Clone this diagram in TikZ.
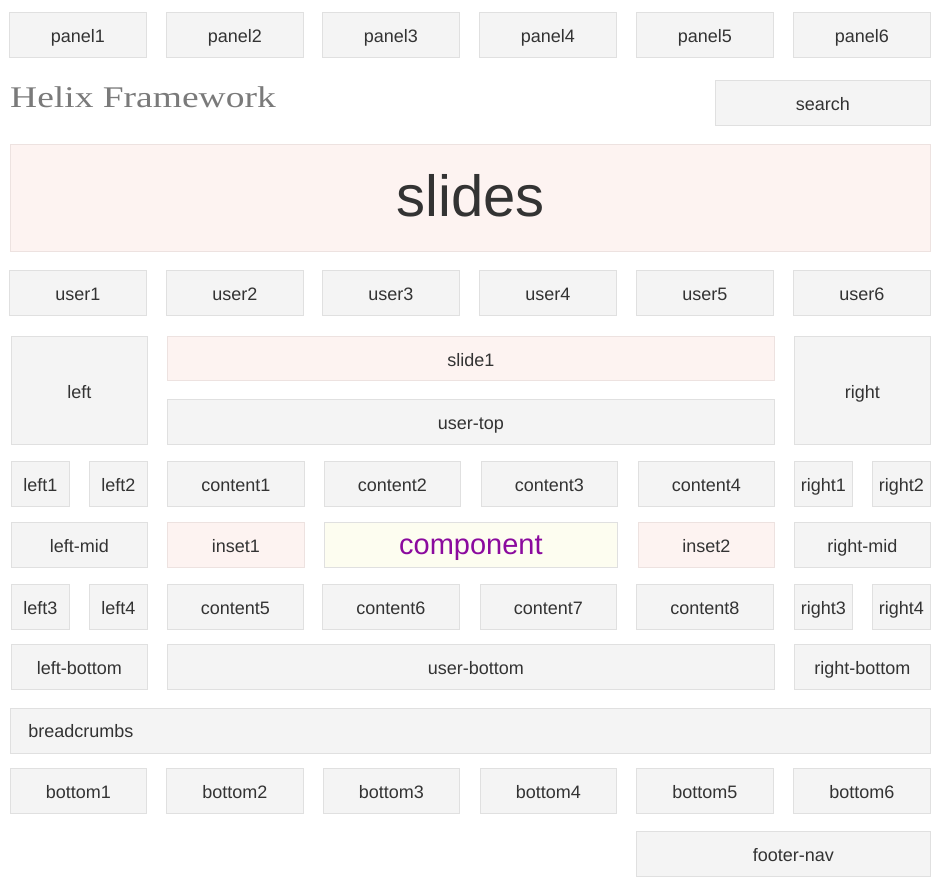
\documentclass[tikz,border=0pt]{standalone}
\usepackage{fontspec}
\setmainfont{Liberation Sans}
\newfontfamily\titlefont{Liberation Serif}
\definecolor{boxfill}{HTML}{F4F4F4}
\definecolor{boxline}{HTML}{E0E0E0}
\definecolor{pinkfill}{HTML}{FDF3F1}
\definecolor{pinkline}{HTML}{EDE2E0}
\definecolor{yelfill}{HTML}{FDFDF0}
\definecolor{txt}{HTML}{333333}
\definecolor{purp}{HTML}{8B0A9E}
\definecolor{titlegray}{HTML}{7A7A7A}
\tikzset{
  box/.style={draw=boxline, fill=boxfill, line width=0.8pt, inner sep=0pt, anchor=north west,
    text=txt, font=\fontsize{18}{21}\selectfont, text height=15.5pt, text depth=0pt},
  pinkbox/.style={box, fill=pinkfill, draw=pinkline},
  yelbox/.style={box, fill=yelfill, draw=boxline},
}
\begin{document}
\begin{tikzpicture}[x=1pt,y=-1pt]
\useasboundingbox (0,0) rectangle (940,888);
% row 1 panels
\node[box, minimum width=137pt, minimum height=45pt] (panel1) at (9,12) {panel1};
\node[box, minimum width=137pt, minimum height=45pt] (panel2) at (166,12) {panel2};
\node[box, minimum width=137pt, minimum height=45pt] (panel3) at (322,12) {panel3};
\node[box, minimum width=137pt, minimum height=45pt] (panel4) at (479,12) {panel4};
\node[box, minimum width=137pt, minimum height=45pt] (panel5) at (636,12) {panel5};
\node[box, minimum width=137pt, minimum height=45pt] (panel6) at (793,12) {panel6};
% title + search
\node[anchor=base west, inner sep=0pt, text=titlegray, font=\titlefont\fontsize{30}{33}\selectfont] (title) at (10,108) {\scalebox{1.25}[1]{Helix Framework}};
\node[box, minimum width=215pt, minimum height=45pt] (search) at (715,80) {search};
% slides
\node[pinkbox, minimum width=920pt, minimum height=107pt, font=\fontsize{58}{62}\selectfont, text height=37pt] (slides) at (10,144) {slides};
% users
\node[box, minimum width=137pt, minimum height=45pt] (user1) at (9,270) {user1};
\node[box, minimum width=137pt, minimum height=45pt] (user2) at (166,270) {user2};
\node[box, minimum width=137pt, minimum height=45pt] (user3) at (322,270) {user3};
\node[box, minimum width=137pt, minimum height=45pt] (user4) at (479,270) {user4};
\node[box, minimum width=137pt, minimum height=45pt] (user5) at (636,270) {user5};
\node[box, minimum width=137pt, minimum height=45pt] (user6) at (793,270) {user6};
% left / slide1 / user-top / right
\node[box, minimum width=136pt, minimum height=108pt] (left) at (11,336) {left};
\node[pinkbox, minimum width=607pt, minimum height=44pt] (slide1) at (167,336) {slide1};
\node[box, minimum width=607pt, minimum height=45pt] (usertop) at (167,399) {user-top};
\node[box, minimum width=136pt, minimum height=108pt] (right) at (794,336) {right};
% content row
\node[box, minimum width=58pt, minimum height=45pt] (left1) at (11,461) {left1};
\node[box, minimum width=58pt, minimum height=45pt] (left2) at (89,461) {left2};
\node[box, minimum width=137pt, minimum height=45pt] (content1) at (167,461) {content1};
\node[box, minimum width=136pt, minimum height=45pt] (content2) at (324,461) {content2};
\node[box, minimum width=136pt, minimum height=45pt] (content3) at (481,461) {content3};
\node[box, minimum width=136pt, minimum height=45pt] (content4) at (638,461) {content4};
\node[box, minimum width=58pt, minimum height=45pt] (right1) at (794,461) {right1};
\node[box, minimum width=58pt, minimum height=45pt] (right2) at (872,461) {right2};
% mid row
\node[box, minimum width=136pt, minimum height=45pt] (leftmid) at (11,522) {left-mid};
\node[pinkbox, minimum width=137pt, minimum height=45pt] (inset1) at (167,522) {inset1};
\node[yelbox, minimum width=293pt, minimum height=45pt, text=purp, font=\fontsize{29}{32}\selectfont, text height=19.6pt] (component) at (324,522) {component};
\node[pinkbox, minimum width=136pt, minimum height=45pt] (inset2) at (638,522) {inset2};
\node[box, minimum width=136pt, minimum height=45pt] (rightmid) at (794,522) {right-mid};
% row 5
\node[box, minimum width=58pt, minimum height=45pt] (left3) at (11,584) {left3};
\node[box, minimum width=58pt, minimum height=45pt] (left4) at (89,584) {left4};
\node[box, minimum width=136pt, minimum height=45pt] (content5) at (167,584) {content5};
\node[box, minimum width=137pt, minimum height=45pt] (content6) at (322,584) {content6};
\node[box, minimum width=136pt, minimum height=45pt] (content7) at (480,584) {content7};
\node[box, minimum width=137pt, minimum height=45pt] (content8) at (636,584) {content8};
\node[box, minimum width=58pt, minimum height=45pt] (right3) at (794,584) {right3};
\node[box, minimum width=58pt, minimum height=45pt] (right4) at (872,584) {right4};
% row 6
\node[box, minimum width=136pt, minimum height=45pt] (leftbottom) at (11,644) {left-bottom};
\node[box, minimum width=607pt, minimum height=45pt, text width=597pt, align=center, inner xsep=5pt] (userbottom) at (167,644) {\hspace*{10pt}user-bottom};
\node[box, minimum width=136pt, minimum height=45pt] (rightbottom) at (794,644) {right-bottom};
% breadcrumbs
\node[box, minimum width=920pt, minimum height=45pt, text width=884pt, align=left, inner xsep=18pt, text height=14pt] (breadcrumbs) at (10,708) {breadcrumbs};
% bottom row
\node[box, minimum width=136pt, minimum height=45pt] (bottom1) at (10,768) {bottom1};
\node[box, minimum width=137pt, minimum height=45pt] (bottom2) at (166,768) {bottom2};
\node[box, minimum width=136pt, minimum height=45pt] (bottom3) at (323,768) {bottom3};
\node[box, minimum width=136pt, minimum height=45pt] (bottom4) at (480,768) {bottom4};
\node[box, minimum width=137pt, minimum height=45pt] (bottom5) at (636,768) {bottom5};
\node[box, minimum width=137pt, minimum height=45pt] (bottom6) at (793,768) {bottom6};
% footer
\node[box, minimum width=294pt, minimum height=45pt, text width=274pt, align=center, inner xsep=10pt] (footernav) at (636,831) {\hspace*{20pt}footer-nav};
\end{tikzpicture}
\end{document}
